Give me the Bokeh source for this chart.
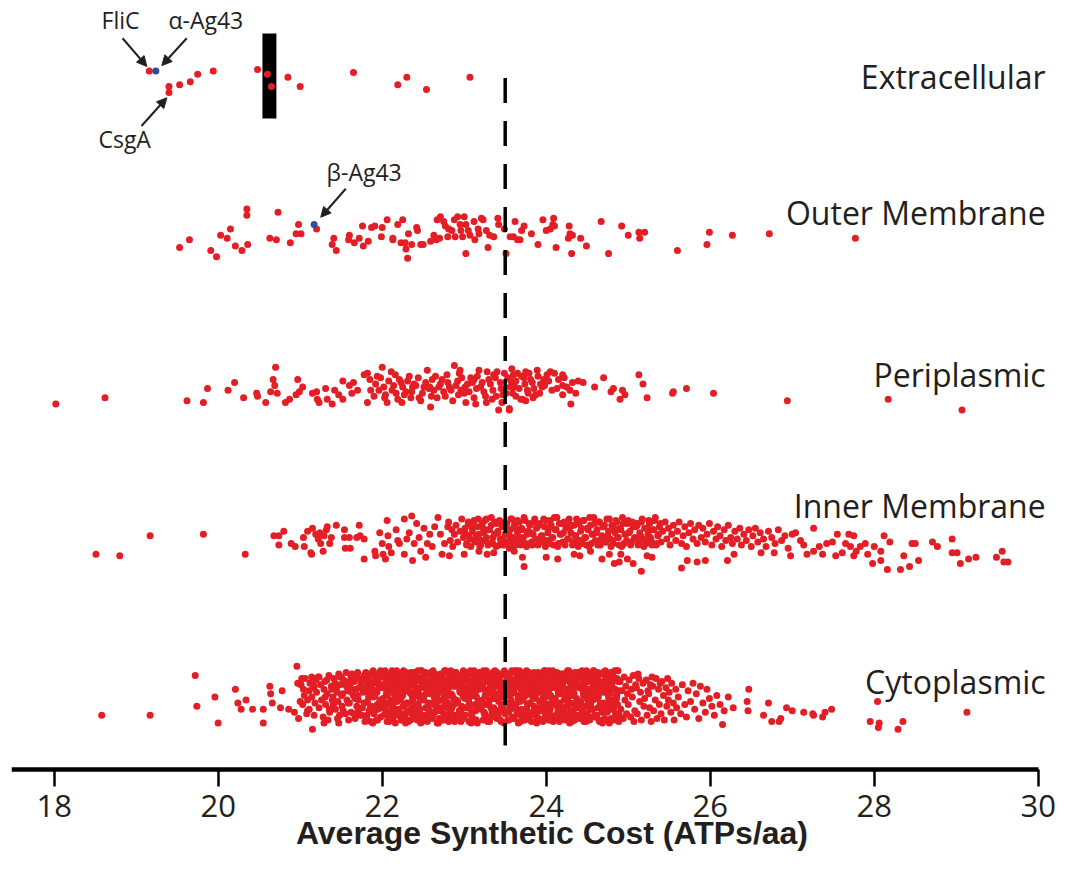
from bokeh.plotting import figure
from bokeh.models import Range1d, Arrow, NormalHead, FixedTicker, LinearAxis
from bokeh.embed import file_html
from bokeh.resources import INLINE
from bokeh.core.properties import value

# ---------------- data ----------------
categories = ["Cytoplasmic", "Inner Membrane", "Periplasmic", "Outer Membrane", "Extracellular"]  # bottom -> top
tick_values = [18, 20, 22, 24, 26, 28, 30]
x_title = "Average Synthetic Cost (ATPs/aa)"
cutoff = 23.5
marked_band = (20.54, 20.71)

# (average synthetic cost, vertical jitter in hundredths of a row)
extracellular = [(19.16, 4), (19.40, -6), (19.40, -10), (19.53, -5), (19.66, -3), (19.75, 2), (19.94, 4),
                 (20.48, 5), (20.60, 2), (20.65, -6), (20.85, 0), (21.00, -6), (21.65, 3), (22.19, -5),
                 (22.30, 0), (22.54, -8), (23.07, 0)]

outer_membrane = [(19.53,-11),(19.65,-6),(19.91,-13),(19.98,-17),(20.03,-3),(20.15,1),(20.11,-5),(20.21,-10),(20.29,-13),
    (20.35,14),(20.35,10),(20.36,-9),(20.63,-5),(20.71,-6),(20.73,12),(20.88,-8),(20.98,4),(20.95,-2),(21.01,-2),(21.20,1),
    (21.39,-9),(21.41,-5),(21.44,-13),(21.60,-3),(21.59,-6),(21.66,-8),(21.72,-5),(21.76,3),(21.77,-10),(21.83,-7),(21.87,2),
    (21.91,3),(21.99,-4),(22.00,2),(22.06,7),(22.13,-5),(22.19,4),(22.25,7),(22.13,-6),(22.23,-8),(22.28,-8),(22.29,-12),
    (22.31,-18),(22.32,-2),(22.36,-9),(22.42,2),(22.43,0),(22.47,-9),(22.50,-9),(22.59,-7),(22.63,-3),(22.66,-6),(22.70,-5),
    (22.67,7),(22.71,9),(22.75,6),(22.77,3),(22.81,1),(22.85,0),(22.80,-4),(22.88,7),(22.92,9),(22.95,4),(22.96,0),(23.00,9),
    (23.02,4),(22.89,-4),(22.98,-4),(23.02,-15),(23.05,0),(23.07,-3),(23.12,6),(23.13,-6),(23.17,1),(23.18,-2),(23.21,8),
    (23.23,7),(23.27,0),(23.29,-11),(23.31,-3),(23.36,-4),(23.41,8),(23.42,4),(23.49,1),(23.51,-15),(23.56,-4),(23.60,-4),
    (23.62,6),(23.65,-6),(23.68,-6),(23.70,0),(23.73,3),(23.82,-2),(23.90,-9),(23.96,7),(24.00,0),(24.05,1),(24.09,8),
    (24.08,4),(24.10,3),(24.12,-11),(24.28,3),(24.29,-2),(24.27,-5),(24.32,-3),(24.31,-15),(24.42,-5),(24.49,-10),(24.67,6),
    (24.76,-15),(24.92,3),(25.00,-3),(25.13,-1),(25.20,-1),(25.14,-5),(25.60,-13),(25.96,-9),(25.99,-1),(26.27,-3),
    (26.72,-2),(27.77,-5)]

periplasmic = [(18.02,-13),(18.62,-9),(19.62,-11),(19.82,-12),(19.87,-3),(20.12,-4),(20.20,1),(20.31,-9),(20.47,-6),
    (20.48,-8),(20.58,-12),(20.70,11),(20.67,3),(20.69,-1),(20.64,-5),(20.72,-6),(20.82,-12),(20.87,-10),(20.95,-7),
    (20.97,3),(20.99,-5),(21.03,-2),(21.15,-6),(21.21,-10),(21.23,-12),(21.20,-5),(21.31,-3),(21.33,-10),(21.39,-13),
    (21.42,-4),(21.47,-7),(21.52,2),(21.52,-10),(21.60,-1),(21.63,-6),(21.65,1),(21.70,-4),(21.78,6),(21.82,7),(21.82,-12),
    (21.86,-4),(21.92,0),(21.96,-4),(21.98,4),(22.00,11),(22.02,-2),(22.04,-7),(22.06,-12),(22.11,8),(22.14,-1),(22.17,-6),
    (22.21,3),(22.25,-2),(22.29,-5),(22.31,2),(22.35,-9),(22.37,-2),(22.39,0),(22.47,-11),(22.51,-2),(22.55,9),(22.59,-15),
    (22.61,3),(22.63,-4),(22.67,-9),(22.71,0),(22.75,-5),(22.79,6),(22.82,-2),(22.86,-11),(22.88,12),(22.92,2),(22.94,7),
    (22.96,-4),(23.00,-6),(23.04,0),(23.08,4),(23.12,-9),(23.14,-13),(23.18,9),(23.20,-2),(23.24,-5),(23.28,8),(23.32,0),
    (23.34,-10),(23.38,4),(23.42,-17),(23.45,-3),(23.49,7),(23.51,-6),(23.55,-17),(23.57,2),(23.61,-1),(23.65,7),(23.71,-10),
    (23.75,8),(23.89,9),(24.05,8),(24.10,7),(24.20,6),(24.22,4),(23.97,3),(24.01,6),(23.93,0),(23.85,-3),(23.77,-4),
    (23.69,-10),(23.75,-11),(23.92,-6),(23.95,-2),(23.83,1),(23.73,4),(23.79,7),(23.63,2),(23.61,-2),(23.59,-6),(23.55,-16),
    (24.13,-3),(24.20,-1),(24.20,-7),(24.29,-4),(24.30,-13),(24.32,1),(24.39,2),(24.45,1),(24.59,-2),(24.70,4),(24.79,-5),
    (24.82,-3),(24.90,-10),(24.93,-4),(24.96,-7),(25.13,6),(25.18,0),(25.23,-9),(25.54,-6),(25.55,-5),(25.71,-3),(26.04,-6),
    (26.94,-11),(28.17,-10),(29.07,-17),
    (21.85,3),(21.90,-8),(21.94,5),(22.03,-9),(22.08,2),(22.12,-4),(22.16,6),(22.19,-10),(22.23,1),(22.27,-7),(22.33,5),
    (22.36,-5),(22.41,-1),(22.44,4),(22.49,-6),(22.53,1),(22.57,-3),(22.60,-8),(22.65,5),(22.69,-2),(22.73,3),(22.77,-8),
    (22.80,1),(22.84,-4),(22.90,-1),(22.93,-7),(22.97,4),(23.01,-2),(23.06,-5),(23.10,1),(23.15,-3),(23.16,5),(23.22,1),
    (23.26,-8),(23.30,3),(23.35,-4),(23.39,-8),(23.40,8),(23.44,1),(23.47,-7),(23.53,4),(23.56,-2),(23.60,6),(23.63,-8),
    (23.67,-3),(23.70,5),(23.74,0),(23.78,-6),(23.81,3),(23.87,-7),(23.90,5),(23.98,-1),(24.03,2),(24.07,-4),(24.15,3),
    (24.25,-2),(24.36,-6),(23.46,-12),(23.27,-12),(23.02,-12),(22.58,-2),(22.45,-9),(22.24,-12),(23.36,6),(23.58,10),
    (23.84,-9),(23.12,3),(22.95,9)]

inner_membrane = [(18.51,-11),(18.80,-12),(19.17,1),(19.82,2),(20.33,-11),(20.68,1),(20.74,1),(20.80,4),(20.74,-5),
    (20.89,-4),(20.94,-6),(21.05,-6),(21.04,0),(21.09,4),(21.13,-10),(21.14,-11),(21.15,6),(21.19,2),(21.22,-1),(21.24,3),
    (21.25,-4),(21.28,-9),(21.29,1),(21.32,5),(21.33,7),(21.36,-4),(21.38,0),(21.44,8),(21.54,5),(21.54,0),(21.55,-7),
    (21.60,0),(21.61,-7),(21.69,0),(21.72,8),(21.73,1),(21.78,-1),(21.78,-14),(21.91,-9),(21.92,-12),(21.97,3),(22.00,-4),
    (22.01,-11),(22.04,-14),(22.06,11),(22.07,1),(22.08,-6),(22.11,-10),(22.17,5),(22.19,-2),(22.21,-4),(22.27,12),
    (22.27,-11),(22.30,-1),(22.33,3),(22.36,14),(22.37,-15),(22.39,-4),(22.42,9),(22.45,0),(22.47,-9),(22.51,6),(22.53,-13),
    (22.55,-4),(22.58,2),(22.61,-6),(22.64,7),(22.68,13),(22.71,2),(22.73,-11),(22.76,-4),(22.80,7),(22.82,-12),(23.00,-11),
    (23.18,-9),(23.28,-11),(23.36,-10),(23.73,-19),(23.71,-13),(23.61,-9),(23.55,-7),
    (24.00,-13),(24.14,-14),(24.34,-11),(24.41,-12),(24.54,-9),(24.68,-14),(24.77,-11),(24.83,-17),(24.89,-16),(24.91,-11),
    (24.99,-14),(25.06,-17),(25.16,-22),(25.23,-12),(25.29,-13),(25.65,-20),(25.72,-15),(25.84,-16),(25.94,-15),(26.21,-15),
    (26.29,-11),(26.62,-10),(26.78,-10),(26.98,-12),
    (27.04,3),(27.10,-2),(27.14,-5),(27.18,-11),(27.26,6),(27.26,-9),(27.33,-6),(27.37,-11),(27.42,-4),(27.49,-3),(27.55,2),
    (27.53,-12),(27.61,-10),(27.65,-4),(27.69,2),(27.75,1),(27.71,-6),(27.75,-12),(27.78,-9),(27.83,-6),(27.89,-4),
    (27.92,-11),(27.98,-17),(28.00,-6),(28.08,-15),(28.12,1),(28.08,-9),(28.16,-21),(28.19,-3),(28.32,-21),(28.36,-12),
    (28.43,-19),(28.46,-4),(28.50,-4),(28.54,-15),(28.71,-3),(28.77,-6),(28.95,-1),(28.95,-10),(29.01,-10),(29.05,-17),
    (29.15,-14),(29.24,-13),(29.49,-13),(29.56,-9),(29.58,-16),(29.63,-16),
    (22.81,10),(22.83,-2),(22.85,5),(22.86,-6),(22.88,2),(22.90,8),(22.92,-3),(22.95,4),(22.97,12),(22.99,0),
    (23.01,6),(23.03,-4),(23.05,9),(23.06,1),(23.08,-6),(23.10,4),(23.12,11),(23.14,-1),(23.16,7),(23.18,2),
    (23.20,-5),(23.22,9),(23.24,3),(23.25,-2),(23.27,12),(23.29,5),(23.31,-4),(23.33,8),(23.35,0),(23.37,10),(23.39,-6),
    (23.41,4),(23.43,11),(23.44,-1),(23.46,7),(23.48,-5),(23.50,2),(23.52,9),(23.54,-3),(23.56,5),(23.58,12),(23.59,0),
    (23.61,8),(23.63,-5),(23.65,3),(23.67,10),(23.68,-2),(23.70,6),(23.72,0),(23.74,11),(23.76,-6),(23.78,4),(23.80,8),
    (23.82,-3),(23.84,2),(23.86,12),(23.88,6),(23.90,-5),(23.92,9),(23.94,1),(23.96,-2),(23.98,7),
    (24.00,11),(24.02,3),(24.04,-4),(24.06,8),(24.08,0),(24.10,13),(24.12,5),(24.14,-6),(24.16,9),(24.18,2),
    (24.20,-3),(24.22,10),(24.24,6),(24.26,-1),(24.28,12),(24.30,3),(24.32,-5),(24.34,8),(24.36,1),(24.38,-2),
    (24.40,9),(24.42,4),(24.44,-4),(24.46,11),(24.48,0),(24.50,6),(24.52,-6),(24.54,8),(24.56,2),(24.58,13),
    (24.60,-2),(24.62,5),(24.64,10),(24.66,-5),(24.68,1),(24.70,7),(24.72,-3),(24.74,12),(24.76,4),(24.78,-1),
    (24.80,8),(24.82,-4),(24.84,3),(24.86,10),(24.88,0),(24.90,6),(24.92,-6),(24.94,9),(24.96,2),(24.98,-2),
    (25.00,11),(25.02,4),(25.04,-3),(25.06,7),(25.08,0),(25.10,9),(25.12,-5),(25.14,3),(25.16,10),(25.18,-1),
    (25.20,6),(25.22,-4),(25.24,2),(25.26,9),(25.28,-2),(25.30,5),(25.32,11),(25.34,-5),(25.36,1),(25.38,7),
    (25.40,-3),(25.42,4),(25.45,10),(25.47,-1),(25.49,6),
    (25.51,-5),(25.53,2),(25.55,8),(25.58,-2),(25.60,4),(25.62,10),(25.65,-4),(25.67,1),(25.69,7),
    (25.71,-6),(25.74,3),(25.76,9),(25.79,-1),(25.81,5),(25.84,-4),(25.86,8),(25.89,0),
    (25.91,6),(25.94,-3),(25.96,2),(25.99,9),(26.02,-5),(26.04,4),(26.07,-1),(26.09,7),
    (26.12,1),(26.14,-6),(26.17,5),(26.19,-2),(26.22,8),(26.25,0),(26.27,-4),(26.30,4),
    (26.33,-1),(26.36,6),(26.38,-5),(26.41,2),(26.44,-2),(26.47,5),(26.50,-6),(26.52,1),
    (26.55,6),(26.58,-3),(26.61,3),(26.65,-1),(26.68,-6),(26.71,4),(26.75,0),(26.79,-4),(26.83,5),(26.87,-2),(26.91,1),
    (26.95,-7),(27.00,2),
    (23.01,3),(23.03,-5),(23.05,10),(23.07,-1),(23.09,7),(23.11,8),(23.13,-3),(23.15,1),(23.17,12),(23.19,-6),
    (23.21,-2),(23.23,6),(23.25,11),(23.27,0),(23.29,-5),(23.31,5),(23.33,13),(23.35,-4),(23.37,2),(23.39,9),
    (23.41,3),(23.43,-5),(23.45,10),(23.47,-1),(23.49,7),(23.51,8),(23.53,-3),(23.55,1),(23.57,12),(23.59,-6),
    (23.61,-2),(23.63,6),(23.65,11),(23.67,0),(23.69,-5),(23.71,5),(23.73,13),(23.75,-4),(23.77,2),(23.79,9),
    (23.81,3),(23.83,-5),(23.85,10),(23.87,-1),(23.89,7),(23.91,8),(23.93,-3),(23.95,1),(23.97,12),(23.99,-6),
    (24.01,-2),(24.03,6),(24.05,11),(24.07,0),(24.09,-5),(24.11,5),(24.13,13),(24.15,-4),(24.17,2),(24.19,9),
    (24.21,3),(24.23,-5),(24.25,10),(24.27,-1),(24.29,7),(24.31,8),(24.33,-3),(24.35,1),(24.37,12),(24.39,-6),
    (24.41,-2),(24.43,6),(24.45,11),(24.47,0),(24.49,-5),(24.51,5),(24.53,13),(24.55,-4),(24.57,2),(24.59,9),
    (24.61,3),(24.63,-5),(24.65,10),(24.67,-1),(24.69,7),(24.71,8),(24.73,-3),(24.75,1),(24.77,12),(24.79,-6),
    (24.81,-2),(24.83,6),(24.85,11),(24.87,0),(24.89,-5),(24.91,5),(24.93,13),(24.95,-4),(24.97,2),(24.99,9),
    (25.01,3),(25.03,-5),(25.05,10),(25.07,-1),(25.09,7),(25.11,8),(25.13,-3),(25.15,1),(25.17,12),(25.19,-6),
    (25.21,-2),(25.23,6),(25.25,11),(25.27,0),(25.29,-5),(25.31,5),(25.33,13),(25.35,-4),(25.37,2),(25.39,9)]

cytoplasmic = [(18.58,-16),(19.17,-16),(19.72,10),(19.74,-10),(19.96,-4),(20.00,-21),(20.21,1),(20.24,-8),(20.28,-12),
    (20.34,-6),(20.42,-12),(20.55,-21),(20.55,-12),(20.63,3),(20.64,-2),(20.66,-8),(20.78,0),(20.76,-11),(20.86,-12),
    (20.93,-14),(20.96,16),(20.97,5),(21.00,-7),(20.98,-18),(21.02,8),(21.09,-13),(21.11,0),(21.14,9),(21.15,-25),(21.17,3),
    (21.23,9),(21.29,-21),(21.47,-21),(21.62,9),(22.47,-21),
    (26.15,-22),(26.47,1),(26.45,-7),(26.46,-13),(26.65,-16),(26.71,-8),(26.75,-20),(26.84,-20),(26.86,-18),(26.93,-11),
    (27.00,-13),(27.14,-14),(27.25,-15),(27.26,-16),(27.37,-17),(27.40,-14),(27.48,-12),(27.95,-20),(28.04,-7),(28.06,-21),
    (28.05,-24),(28.29,-25),(28.35,-20),(29.13,-14),
    (21.01,4),(21.03,-9),(21.05,-3),(21.06,8),(21.08,-15),(21.09,-6),(21.04,1),
    (21.11,-12),(21.12,5),(21.14,-4),(21.16,2),(21.17,-16),(21.19,7),(21.18,-8),
    (21.20,-1),(21.22,9),(21.23,-11),(21.25,4),(21.26,-6),(21.28,-17),(21.29,1),
    (21.30,6),(21.31,-9),(21.33,-2),(21.35,10),(21.36,-14),(21.38,3),(21.39,-6),(21.34,-19),
    (21.40,-4),(21.41,8),(21.43,-12),(21.44,1),(21.46,-7),(21.47,11),(21.48,-16),(21.49,4),(21.45,-1),
    (21.50,9),(21.51,-10),(21.52,-2),(21.54,5),(21.55,-15),(21.56,12),(21.57,-6),(21.58,0),(21.59,-19),(21.53,7),
    (21.60,-8),(21.61,3),(21.62,-14),(21.63,11),(21.65,-3),(21.66,6),(21.67,-18),(21.68,1),(21.69,-10),(21.64,8),(21.67,-5),
    (21.70,12),(21.71,-6),(21.72,2),(21.73,-16),(21.75,7),(21.76,-11),(21.77,-1),(21.78,10),(21.79,-20),(21.74,4),(21.78,-8),(21.71,-13),
    (21.80,12),(21.81,-18),(21.81,3),(21.82,-7),(21.83,8),(21.84,-13),(21.84,-1),(21.85,10),(21.86,-20),(21.86,5),(21.87,-10),(21.88,1),(21.89,-4),(21.89,13),
    (21.90,-15),(21.90,6),(21.91,-3),(21.92,11),(21.93,-19),(21.93,0),(21.94,-9),(21.95,7),(21.95,-12),(21.96,2),(21.97,-6),(21.98,13),(21.98,-17),(21.99,4),
    (22.00,9),(22.01,-5),(22.02,-16),(22.02,2),(22.03,12),(22.04,-11),(22.05,-2),(22.05,6),(22.06,-20),(22.07,-8),(22.07,11),(22.08,0),(22.09,-14),(22.09,4),
    (22.10,-1),(22.11,-18),(22.11,7),(22.12,13),(22.13,-9),(22.14,3),(22.14,-13),(22.15,10),(22.16,-4),(22.16,-21),(22.17,5),(22.18,-7),(22.19,1),(22.19,8),
    (22.20,4),(22.20,-12),(22.21,11),(22.22,-6),(22.23,-19),(22.23,1),(22.24,8),(22.25,-15),(22.25,-3),(22.26,13),(22.27,-9),(22.28,6),(22.28,-17),(22.29,0),
    (22.30,-8),(22.31,2),(22.32,-20),(22.32,10),(22.33,5),(22.34,-14),(22.35,-2),(22.35,12),(22.36,-11),(22.37,7),(22.37,-5),(22.38,-16),(22.39,3),(22.39,9),
    (22.40,-15),(22.41,6),(22.41,-3),(22.42,11),(22.43,-19),(22.44,0),(22.44,-9),(22.45,7),(22.46,-12),(22.46,2),(22.47,-6),(22.48,13),(22.49,-17),(22.49,4),
    (22.50,9),(22.50,-5),(22.51,-16),(22.52,2),(22.53,12),(22.53,-11),(22.54,-2),(22.55,6),(22.55,-20),(22.56,-8),(22.57,11),(22.58,0),(22.58,-14),(22.59,4),
    (22.60,-1),(22.61,-18),(22.62,7),(22.62,13),(22.63,-9),(22.64,3),(22.65,-13),(22.65,10),(22.66,-4),(22.67,-21),(22.67,5),(22.68,-7),(22.69,1),(22.69,8),
    (22.70,4),(22.71,-12),(22.71,11),(22.72,-6),(22.73,-19),(22.74,1),(22.74,8),(22.75,-15),(22.76,-3),(22.76,13),(22.77,-9),(22.78,6),(22.79,-17),(22.79,0),
    (22.80,-8),(22.80,2),(22.81,-20),(22.82,10),(22.83,5),(22.83,-14),(22.84,-2),(22.85,12),(22.85,-11),(22.86,7),(22.87,-5),(22.88,-16),(22.88,3),(22.89,9),
    (22.90,12),(22.91,-18),(22.92,3),(22.92,-7),(22.93,8),(22.94,-13),(22.95,-1),(22.95,10),(22.96,-20),(22.97,5),(22.97,-10),(22.98,1),(22.99,-4),(22.99,13),
    (23.00,9),(23.01,-5),(23.01,-16),(23.02,2),(23.03,12),(23.04,-11),(23.04,-2),(23.05,6),(23.06,-20),(23.06,-8),(23.07,11),(23.08,0),(23.09,-14),(23.09,4),
    (23.10,-1),(23.10,-18),(23.11,7),(23.12,13),(23.13,-9),(23.13,3),(23.14,-13),(23.15,10),(23.15,-4),(23.16,-21),(23.17,5),(23.18,-7),(23.18,1),(23.19,8),
    (23.20,4),(23.21,-12),(23.22,11),(23.22,-6),(23.23,-19),(23.24,1),(23.25,8),(23.25,-15),(23.26,-3),(23.27,13),(23.27,-9),(23.28,6),(23.29,-17),(23.29,0),
    (23.30,-8),(23.31,2),(23.31,-20),(23.32,10),(23.33,5),(23.34,-14),(23.34,-2),(23.35,12),(23.36,-11),(23.36,7),(23.37,-5),(23.38,-16),(23.39,3),(23.39,9),
    (23.40,12),(23.40,-18),(23.41,3),(23.42,-7),(23.43,8),(23.43,-13),(23.44,-1),(23.45,10),(23.45,-20),(23.46,5),(23.47,-10),(23.48,1),(23.48,-4),(23.49,13),
    (23.50,-15),(23.51,6),(23.52,-3),(23.52,11),(23.53,-19),(23.54,0),(23.55,-9),(23.55,7),(23.56,-12),(23.57,2),(23.57,-6),(23.58,13),(23.59,-17),(23.59,4),
    (23.60,-1),(23.61,-18),(23.61,7),(23.62,13),(23.63,-9),(23.64,3),(23.64,-13),(23.65,10),(23.66,-4),(23.66,-21),(23.67,5),(23.68,-7),(23.69,1),(23.69,8),
    (23.70,4),(23.70,-12),(23.71,11),(23.72,-6),(23.73,-19),(23.73,1),(23.74,8),(23.75,-15),(23.75,-3),(23.76,13),(23.77,-9),(23.78,6),(23.78,-17),(23.79,0),
    (23.80,-8),(23.81,2),(23.82,-20),(23.82,10),(23.83,5),(23.84,-14),(23.85,-2),(23.85,12),(23.86,-11),(23.87,7),(23.87,-5),(23.88,-16),(23.89,3),(23.89,9),
    (23.90,12),(23.91,-18),(23.91,3),(23.92,-7),(23.93,8),(23.94,-13),(23.94,-1),(23.95,10),(23.96,-20),(23.96,5),(23.97,-10),(23.98,1),(23.99,-4),(23.99,13),
    (24.00,-15),(24.00,6),(24.01,-3),(24.02,11),(24.03,-19),(24.03,0),(24.04,-9),(24.05,7),(24.05,-12),(24.06,2),(24.07,-6),(24.08,13),(24.08,-17),(24.09,4),
    (24.10,9),(24.11,-5),(24.12,-16),(24.12,2),(24.13,12),(24.14,-11),(24.15,-2),(24.15,6),(24.16,-20),(24.17,-8),(24.17,11),(24.18,0),(24.19,-14),(24.19,4),
    (24.20,4),(24.21,-12),(24.21,11),(24.22,-6),(24.23,-19),(24.24,1),(24.24,8),(24.25,-15),(24.26,-3),(24.26,13),(24.27,-9),(24.28,6),(24.29,-17),(24.29,0),
    (24.30,-8),(24.30,2),(24.31,-20),(24.32,10),(24.33,5),(24.33,-14),(24.34,-2),(24.35,12),(24.35,-11),(24.36,7),(24.37,-5),(24.38,-16),(24.38,3),(24.39,9),
    (24.40,12),(24.41,-18),(24.42,3),(24.42,-7),(24.43,8),(24.44,-13),(24.45,-1),(24.45,10),(24.46,-20),(24.47,5),(24.47,-10),(24.48,1),(24.49,-4),(24.49,13),
    (24.50,-15),(24.51,6),(24.51,-3),(24.52,11),(24.53,-19),(24.54,0),(24.54,-9),(24.55,7),(24.56,-12),(24.56,2),(24.57,-6),(24.58,13),(24.59,-17),(24.59,4),
    (24.60,9),(24.60,-5),(24.61,-16),(24.62,2),(24.63,12),(24.63,-11),(24.64,-2),(24.65,6),(24.65,-20),(24.66,-8),(24.67,11),(24.68,0),(24.68,-14),(24.69,4),
    (24.70,-1),(24.71,-18),(24.72,7),(24.72,13),(24.73,-9),(24.74,3),(24.75,-13),(24.75,10),(24.76,-4),(24.77,-21),(24.77,5),(24.78,-7),(24.79,1),(24.79,8),
    (24.80,4),(24.81,-12),(24.81,11),(24.82,-6),(24.83,-19),(24.84,1),(24.84,8),(24.85,-15),(24.86,-3),(24.86,13),(24.87,-9),(24.88,6),(24.89,-17),(24.89,0),
    (24.90,6),(24.91,-12),(24.92,0),(24.94,-18),(24.95,9),(24.96,-6),(24.97,3),(24.98,-15),(24.99,-2),
    (25.00,-9),(25.01,7),(25.03,-17),(25.04,1),(25.05,-4),(25.06,10),(25.08,-13),(25.09,4),(25.07,-20),
    (25.10,2),(25.11,-15),(25.13,8),(25.14,-7),(25.15,-1),(25.16,-19),(25.18,5),(25.19,-10),(25.12,11),
    (25.20,-5),(25.22,7),(25.23,-16),(25.24,0),(25.26,-11),(25.27,4),(25.28,-20),(25.29,9),(25.25,-2),
    (25.30,3),(25.31,-13),(25.33,-6),(25.34,8),(25.35,-18),(25.37,1),(25.38,-9),(25.39,5),
    (25.40,-15),(25.41,6),(25.43,-3),(25.44,-19),(25.46,2),(25.47,-10),(25.48,8),(25.49,-6),
    (25.50,-1),(25.52,-14),(25.53,5),(25.55,-8),(25.56,-19),(25.58,1),(25.59,-11),
    (25.61,-4),(25.64,-15),(25.66,4),(25.69,-9),(25.71,-17),(25.73,0),(25.76,-7),(25.79,5),
    (25.81,-12),(25.83,-2),(25.86,-18),(25.88,3),(25.91,-8),(25.94,-14),(25.96,1),(25.99,-5),
    (26.02,-10),(26.05,-16),(26.08,-3),(26.12,-9),(26.17,-13),(26.22,-4),(26.28,-11),
    (21.305,-4),(21.325,7),(21.355,-12),(21.385,1),(21.405,-9),(21.425,5),(21.455,-18),(21.485,9),
    (21.505,-3),(21.525,-13),(21.565,3),(21.585,-8),(21.605,6),(21.625,-1),(21.655,-15),(21.685,10),
    (21.705,-3),(21.725,8),(21.755,-16),(21.785,0),
    (21.805,7),(21.815,-16),(21.835,-4),(21.845,11),(21.855,-10),(21.865,1),(21.885,-21),(21.895,5),
    (21.905,-13),(21.925,9),(21.935,-1),(21.945,-19),(21.965,4),(21.975,-7),(21.985,12),(21.995,-11),
    (22.005,2),(22.015,-9),(22.035,13),(22.045,-15),(22.055,-3),(22.065,8),(22.085,-20),(22.095,6),
    (22.105,-6),(22.125,10),(22.135,-17),(22.145,0),(22.165,-12),(22.175,5),(22.185,-2),(22.195,11),
    (22.205,7),(22.215,-16),(22.235,-4),(22.245,11),(22.255,-10),(22.265,1),(22.285,-21),(22.295,5),
    (22.305,-13),(22.325,9),(22.335,-1),(22.345,-19),(22.365,4),(22.375,-7),(22.385,12),(22.395,-11),
    (22.405,2),(22.415,-9),(22.435,13),(22.445,-15),(22.455,-3),(22.465,8),(22.485,-20),(22.495,6),
    (22.505,-6),(22.525,10),(22.535,-17),(22.545,0),(22.565,-12),(22.575,5),(22.585,-2),(22.595,11),
    (22.605,7),(22.615,-16),(22.635,-4),(22.645,11),(22.655,-10),(22.665,1),(22.685,-21),(22.695,5),
    (22.705,-13),(22.725,9),(22.735,-1),(22.745,-19),(22.765,4),(22.775,-7),(22.785,12),(22.795,-11),
    (22.805,2),(22.815,-9),(22.835,13),(22.845,-15),(22.855,-3),(22.865,8),(22.885,-20),(22.895,6),
    (22.905,-6),(22.925,10),(22.935,-17),(22.945,0),(22.965,-12),(22.975,5),(22.985,-2),(22.995,11),
    (23.005,7),(23.015,-16),(23.035,-4),(23.045,11),(23.055,-10),(23.065,1),(23.085,-21),(23.095,5),
    (23.105,-13),(23.125,9),(23.135,-1),(23.145,-19),(23.165,4),(23.175,-7),(23.185,12),(23.195,-11),
    (23.205,2),(23.215,-9),(23.235,13),(23.245,-15),(23.255,-3),(23.265,8),(23.285,-20),(23.295,6),
    (23.305,-6),(23.325,10),(23.335,-17),(23.345,0),(23.365,-12),(23.375,5),(23.385,-2),(23.395,11),
    (23.405,7),(23.415,-16),(23.435,-4),(23.445,11),(23.455,-10),(23.465,1),(23.485,-21),(23.495,5),
    (23.505,-13),(23.525,9),(23.535,-1),(23.545,-19),(23.565,4),(23.575,-7),(23.585,12),(23.595,-11),
    (23.605,2),(23.615,-9),(23.635,13),(23.645,-15),(23.655,-3),(23.665,8),(23.685,-20),(23.695,6),
    (23.705,-6),(23.725,10),(23.735,-17),(23.745,0),(23.765,-12),(23.775,5),(23.785,-2),(23.795,11),
    (23.805,7),(23.815,-16),(23.835,-4),(23.845,11),(23.855,-10),(23.865,1),(23.885,-21),(23.895,5),
    (23.905,-13),(23.925,9),(23.935,-1),(23.945,-19),(23.965,4),(23.975,-7),(23.985,12),(23.995,-11),
    (24.005,2),(24.015,-9),(24.035,13),(24.045,-15),(24.055,-3),(24.065,8),(24.085,-20),(24.095,6),
    (24.105,-6),(24.125,10),(24.135,-17),(24.145,0),(24.165,-12),(24.175,5),(24.185,-2),(24.195,11),
    (24.205,7),(24.215,-16),(24.235,-4),(24.245,11),(24.255,-10),(24.265,1),(24.285,-21),(24.295,5),
    (24.305,-13),(24.325,9),(24.335,-1),(24.345,-19),(24.365,4),(24.375,-7),(24.385,12),(24.395,-11),
    (24.405,2),(24.415,-9),(24.435,13),(24.445,-15),(24.455,-3),(24.465,8),(24.485,-20),(24.495,6),
    (24.505,-6),(24.525,10),(24.535,-17),(24.545,0),(24.565,-12),(24.575,5),(24.585,-2),(24.595,11),
    (24.605,7),(24.615,-16),(24.635,-4),(24.645,11),(24.655,-10),(24.665,1),(24.685,-21),(24.695,5),
    (24.705,-13),(24.725,9),(24.735,-1),(24.745,-19),(24.765,4),(24.775,-7),(24.785,12),(24.795,-11),
    (24.805,2),(24.815,-9),(24.835,13),(24.845,-15),(24.855,-3),(24.865,8),(24.885,-20),(24.895,6),
    (22.008,-8),(22.025,4),(22.042,-14),(22.058,10),(22.075,-2),(22.092,-18),
    (22.108,1),(22.125,-11),(22.142,7),(22.158,-5),(22.175,13),(22.192,-16),
    (22.208,-3),(22.225,9),(22.242,-19),(22.258,3),(22.275,-9),(22.292,12),
    (22.308,-8),(22.325,4),(22.342,-14),(22.358,10),(22.375,-2),(22.392,-18),
    (22.408,1),(22.425,-11),(22.442,7),(22.458,-5),(22.475,13),(22.492,-16),
    (22.508,-3),(22.525,9),(22.542,-19),(22.558,3),(22.575,-9),(22.592,12),
    (22.608,-8),(22.625,4),(22.642,-14),(22.658,10),(22.675,-2),(22.692,-18),
    (22.708,1),(22.725,-11),(22.742,7),(22.758,-5),(22.775,13),(22.792,-16),
    (22.808,-3),(22.825,9),(22.842,-19),(22.858,3),(22.875,-9),(22.892,12),
    (22.908,-8),(22.925,4),(22.942,-14),(22.958,10),(22.975,-2),(22.992,-18),
    (23.008,1),(23.025,-11),(23.042,7),(23.058,-5),(23.075,13),(23.092,-16),
    (23.108,-3),(23.125,9),(23.142,-19),(23.158,3),(23.175,-9),(23.192,12),
    (23.208,-8),(23.225,4),(23.242,-14),(23.258,10),(23.275,-2),(23.292,-18),
    (23.308,1),(23.325,-11),(23.342,7),(23.358,-5),(23.375,13),(23.392,-16),
    (23.408,-3),(23.425,9),(23.442,-19),(23.458,3),(23.475,-9),(23.492,12),
    (23.508,-8),(23.525,4),(23.542,-14),(23.558,10),(23.575,-2),(23.592,-18),
    (23.608,1),(23.625,-11),(23.642,7),(23.658,-5),(23.675,13),(23.692,-16),
    (23.708,-3),(23.725,9),(23.742,-19),(23.758,3),(23.775,-9),(23.792,12),
    (23.808,-8),(23.825,4),(23.842,-14),(23.858,10),(23.875,-2),(23.892,-18),
    (23.908,1),(23.925,-11),(23.942,7),(23.958,-5),(23.975,13),(23.992,-16),
    (24.008,-3),(24.025,9),(24.042,-19),(24.058,3),(24.075,-9),(24.092,12),
    (24.108,-8),(24.125,4),(24.142,-14),(24.158,10),(24.175,-2),(24.192,-18),
    (24.208,1),(24.225,-11),(24.242,7),(24.258,-5),(24.275,13),(24.292,-16),
    (24.308,-3),(24.325,9),(24.342,-19),(24.358,3),(24.375,-9),(24.392,12),
    (24.408,-8),(24.425,4),(24.442,-14),(24.458,10),(24.475,-2),(24.492,-18),
    (24.508,1),(24.525,-11),(24.542,7),(24.558,-5),(24.575,13),(24.592,-16),
    (24.608,-3),(24.625,9),(24.642,-19),(24.658,3),(24.675,-9),(24.692,12),
    (24.708,-8),(24.725,4),(24.742,-14),(24.758,10),(24.775,-2),(24.792,-18),
    (24.808,1),(24.825,-11),(24.842,7),(24.858,-5),(24.875,13),(24.892,-16)]

# proteins drawn in blue: (name, compartment, cost, jitter)
highlighted = [("α-Ag43", "Extracellular", 19.24, 4), ("β-Ag43", "Outer Membrane", 21.17, 4)]

# ---------------- figure ----------------
RED = "#e31e25"
BLUE = "#2d4fa0"
INK = "#231f20"
X0, X1 = 17.48, 30.21
PX_ROW = 153.4          # pixels per compartment row
Y0 = -112 / PX_ROW      # frame runs to the bottom of the canvas

p = figure(width=1065, height=879, x_range=Range1d(X0, X1), y_range=Range1d(Y0, 5),
           output_backend="svg", toolbar_location=None, x_axis_location=None, y_axis_location=None,
           min_border_left=11, min_border_right=10, min_border_top=0, min_border_bottom=0)
p.xgrid.visible = False
p.ygrid.visible = False
p.outline_line_color = None
p.background_fill_color = "white"
p.border_fill_color = "white"

ax = LinearAxis(fixed_location=-2 / PX_ROW, ticker=FixedTicker(ticks=tick_values), bounds=(X0, tick_values[-1]))
ax.axis_line_width = 4.5
ax.axis_line_color = "black"
ax.major_tick_out = 17
ax.major_tick_in = 0
ax.major_tick_line_width = 2.5
ax.major_tick_line_color = "black"
ax.minor_tick_line_color = None
ax.major_label_text_font = "Open Sans"
ax.major_label_text_font_size = "31px"
ax.major_label_text_color = INK
ax.major_label_standoff = 8
p.add_layout(ax, "below")

# black marker bar behind the extracellular points
row_ext = categories.index("Extracellular")
p.quad(left=[marked_band[0]], right=[marked_band[1]], bottom=[row_ext + 0.231], top=[row_ext + 0.785],
       fill_color="black", line_color=None)

groups = {"Cytoplasmic": cytoplasmic, "Inner Membrane": inner_membrane, "Periplasmic": periplasmic,
          "Outer Membrane": outer_membrane, "Extracellular": extracellular}
xs, ys = [], []
for i, name in enumerate(categories):
    for cost, jit in groups[name]:
        xs.append(cost)
        ys.append(i + 0.5 + jit / 100.0)
p.scatter(xs, ys, size=7, fill_color=RED, line_color=None)

hx = [h[2] for h in highlighted]
hy = [categories.index(h[1]) + 0.5 + h[3] / 100.0 for h in highlighted]
p.scatter(hx, hy, size=7, fill_color=BLUE, line_color=None)

# cutoff line
p.segment(x0=[cutoff], y0=[4.494], x1=[cutoff], y1=[0.143], line_color="black",
          line_width=3.5, line_dash="25 18")

# compartment labels
label_y = [0.560, 1.708, 2.562, 3.618, 4.504]
p.text(x=[30.09] * len(categories), y=label_y, text=categories, text_align="right",
       text_baseline="alphabetic", text_font=value("Open Sans"), text_font_size="32px", text_color=INK)

# axis title
p.text(x=[24.07], y=[-0.424], text=[x_title], text_align="center", text_baseline="alphabetic",
       text_font=value("Liberation Sans"), text_font_style="bold", text_font_size="32px", text_color=INK)

# annotations
ann_text = ["FliC", "α-Ag43", "CsgA", "β-Ag43"]
p.text(x=[18.81, 19.85, 18.86, 21.78], y=[4.870, 4.870, 4.100, 3.881], text=ann_text,
       text_align="center", text_baseline="alphabetic", text_font=value("Open Sans"),
       text_font_size="23px", text_color=INK)
for (xs0, ys0, xe, ye) in [(18.834, 4.754, 19.130, 4.570), (19.617, 4.754, 19.313, 4.576),
                           (19.065, 4.182, 19.374, 4.366), (21.556, 3.773, 21.251, 3.587)]:
    p.add_layout(Arrow(end=NormalHead(size=10, fill_color=INK, line_color=INK, line_width=1),
                       x_start=xs0, y_start=ys0, x_end=xe, y_end=ye, line_color=INK, line_width=2))

open("out.html", "w").write(file_html(p, INLINE))
